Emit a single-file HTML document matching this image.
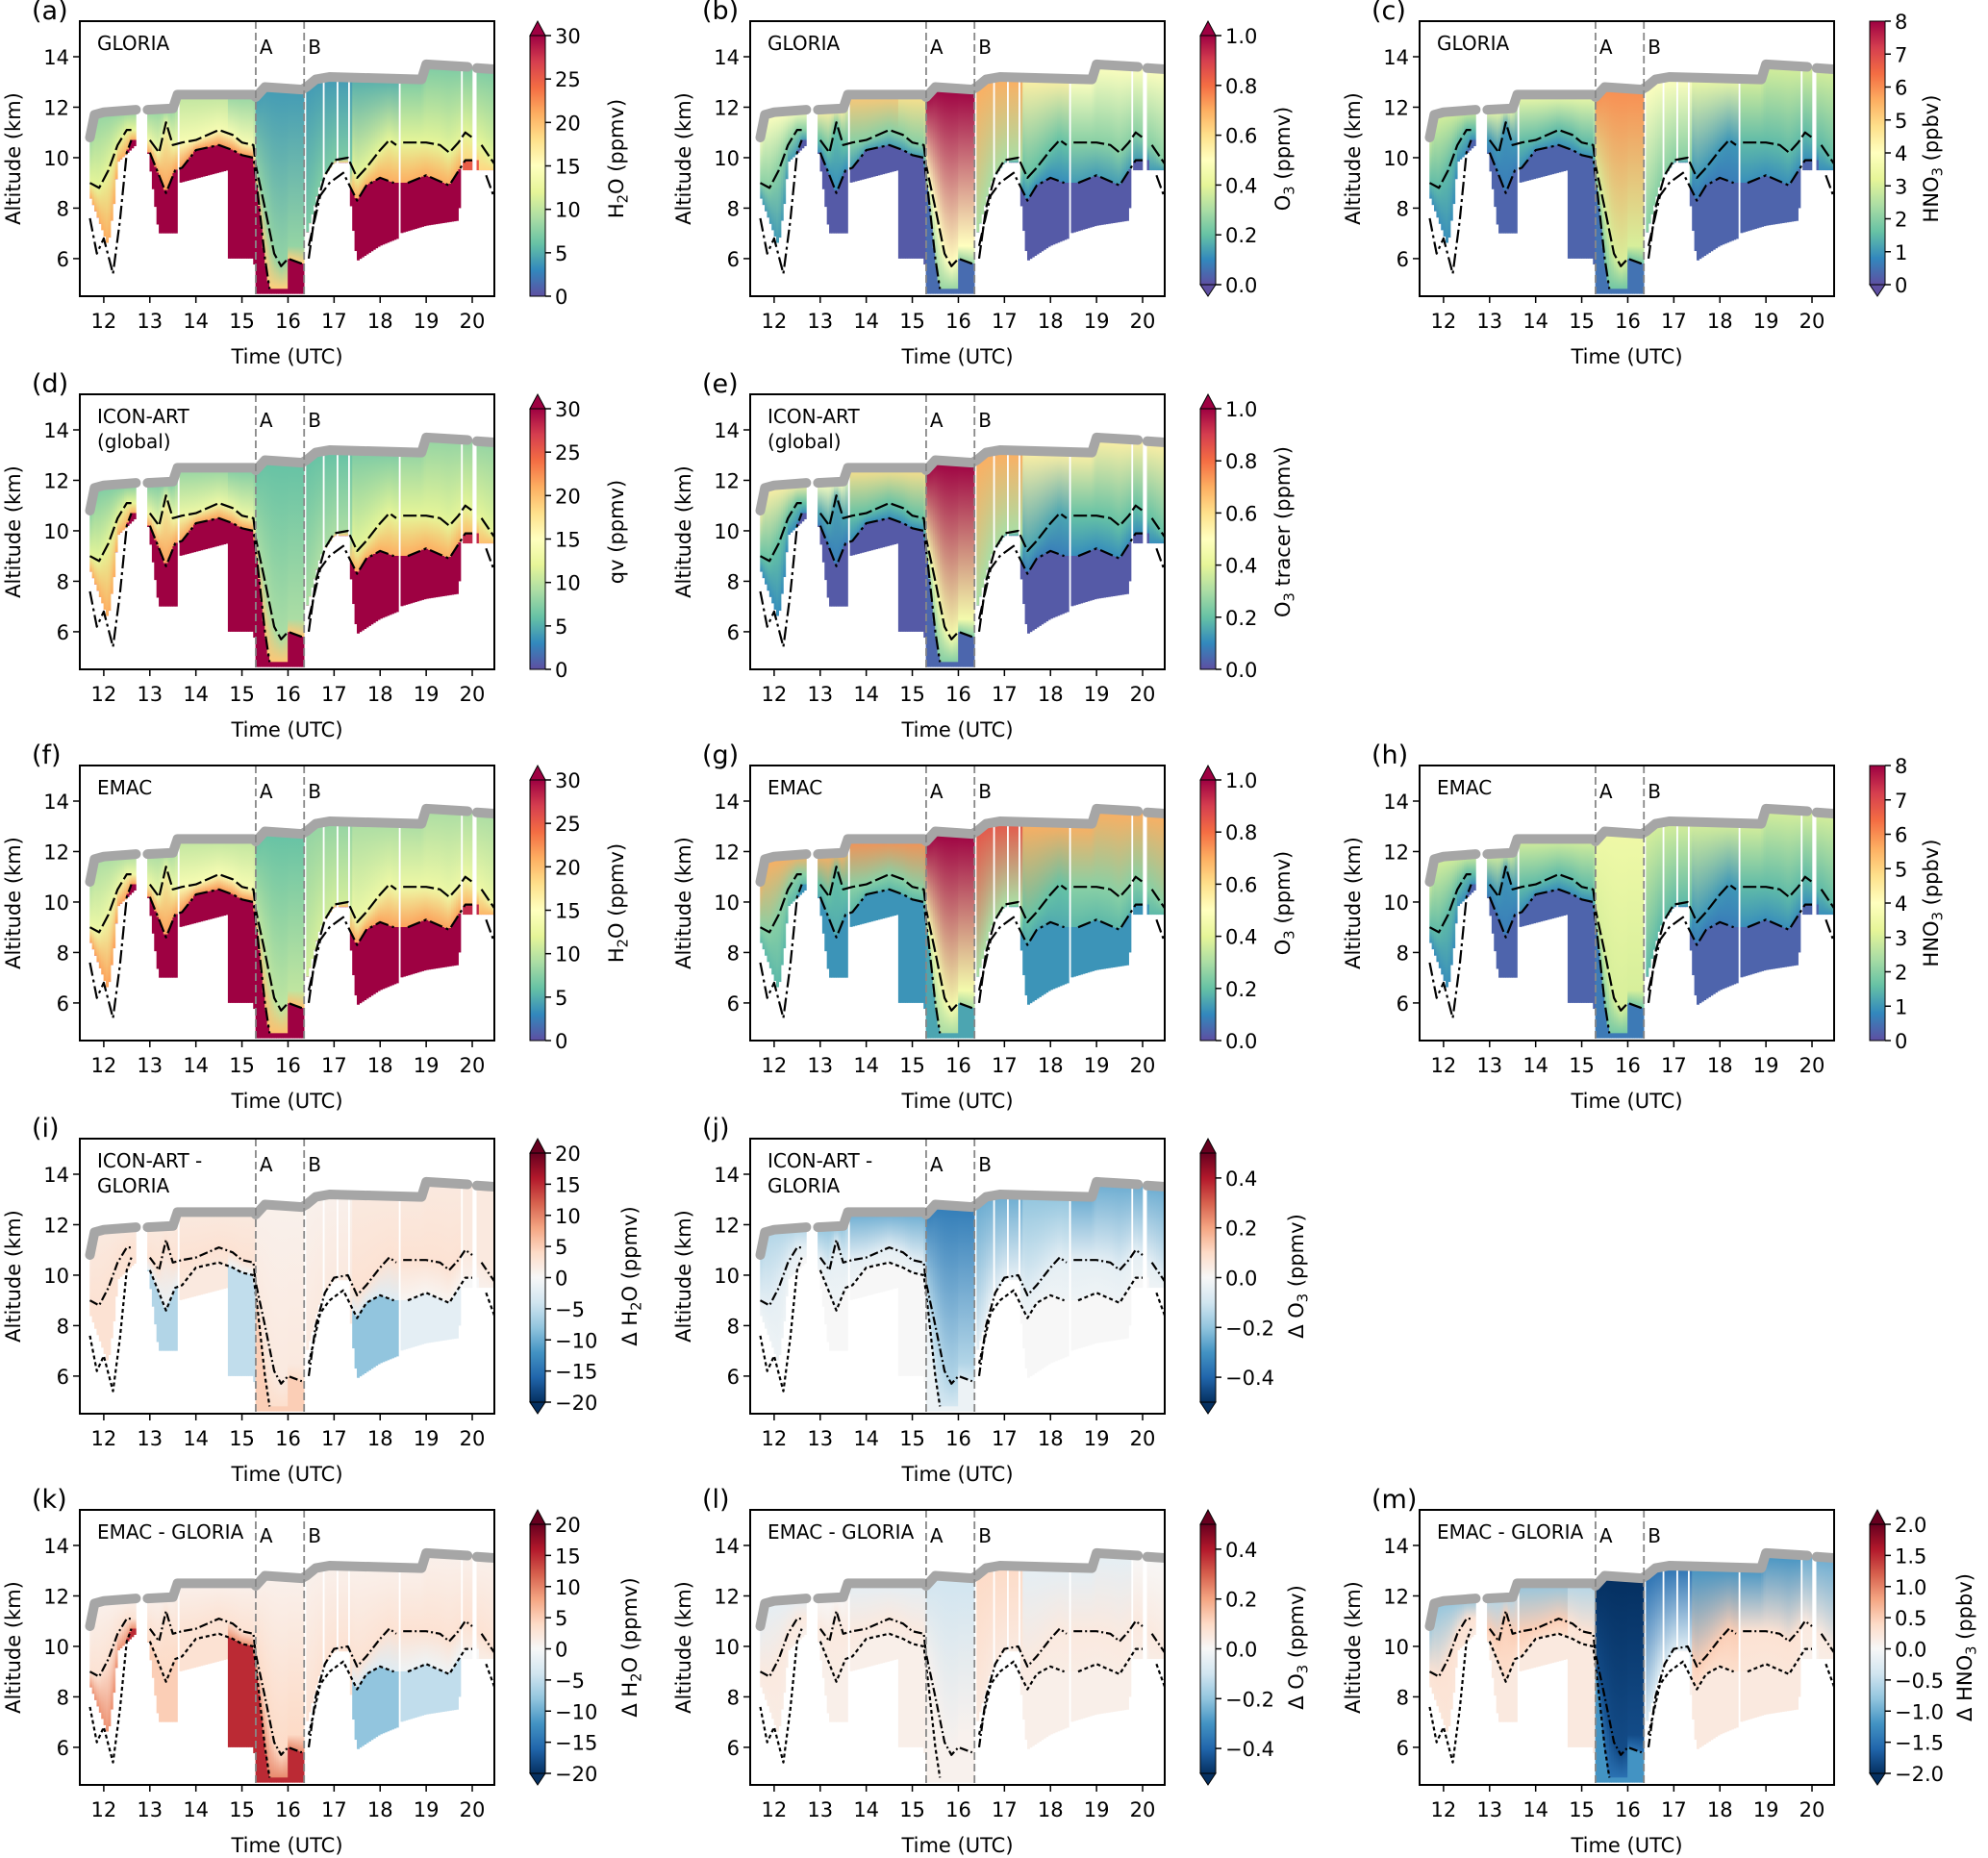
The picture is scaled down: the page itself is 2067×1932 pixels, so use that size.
<!DOCTYPE html>
<html><head><meta charset="utf-8"><style>
html,body{margin:0;padding:0;background:#fff;}
svg{display:block;font-family:"DejaVu Sans","Liberation Sans",sans-serif;}
</style></head><body>
<svg id="fig" width="2067" height="1932" viewBox="0 0 2067 1932" xmlns="http://www.w3.org/2000/svg"></svg>
<script>
// ---------- shared flight geometry (time in UTC hours, altitude in km) ----------
const flightT = [11.7,11.8,12.0,12.7,null,12.95,13.5,13.6,15.25,15.3,15.5,16.3,16.4,16.6,16.9,18.9,19.0,19.9,null,20.1,20.5];
const flightZ = [10.8,11.7,11.8,11.9,null,11.9,11.95,12.5,12.5,12.4,12.8,12.7,12.8,13.1,13.2,13.1,13.7,13.6,null,13.55,13.5];
const upperT = [11.7,11.9,12.1,12.3,12.5,12.6,null,13.0,13.2,13.35,13.5,13.7,14.0,14.5,14.8,15.0,15.25,15.3,15.5,15.7,15.85,16.0,16.3,null,16.45,16.6,16.8,17.0,17.3,17.5,17.7,18.0,18.2,18.35,null,18.5,19.0,19.3,19.5,19.7,19.85,20.0,null,20.2,20.5];
const upperZ = [9.0,8.8,9.5,10.5,11.1,11.1,null,10.7,10.2,11.4,10.5,10.6,10.7,11.1,10.9,10.6,10.5,9.7,8.0,6.2,5.7,6.0,5.8,null,6.0,8.0,9.3,9.9,10.0,9.2,9.6,10.3,10.7,10.5,null,10.6,10.6,10.5,10.2,10.6,11.0,10.8,null,10.5,9.7];
const lowerT = [11.7,11.85,12.0,12.2,12.35,12.5,12.6,null,13.0,13.2,13.35,13.55,13.7,14.0,14.5,14.8,15.0,15.25,15.35,15.5,15.6,null,16.45,16.7,16.9,17.2,17.5,17.7,18.0,18.3,null,18.6,19.0,19.5,19.85,20.0,null,20.3,20.5];
const lowerZ = [7.6,6.2,6.8,5.4,7.5,10.2,10.7,null,10.2,9.3,8.6,9.5,9.6,10.3,10.5,10.3,10.1,10.0,8.5,6.0,4.8,null,6.5,8.5,9.0,9.4,8.3,8.9,9.2,9.0,null,9.0,9.3,8.9,9.9,9.9,null,9.3,8.3];
const bottomT = [11.7,11.9,12.1,12.25,12.3,12.7,12.95,13.2,13.6,13.65,14.7,14.72,15.27,15.3,16.33,16.42,16.7,17.0,17.3,17.4,17.5,18.0,18.4,18.45,19.0,19.7,19.8,20.5];
const bottomZ = [8.5,7.5,6.5,8.5,9.8,10.5,10.5,7.0,7.0,9.0,9.5,6.0,6.0,4.6,4.6,7.0,9.0,9.8,9.8,7.5,5.9,6.5,6.8,7.0,7.3,7.5,9.5,9.5];
const gapStart = [12.72,16.34,20.02,13.6,14.7,16.75,17.05,17.3,18.4,19.75];
const gapEnd   = [12.93,16.42,20.12,13.64,14.72,16.78,17.09,17.36,18.44,19.78];
const segEdges = [11.7,12.8,13.6,14.7,15.3,16.38,17.4,18.45,19.75,20.6];
const xTicks = [12,13,14,15,16,17,18,19,20];
const yTicks = [6,8,10,12,14];
const markA = 15.3, markB = 16.35;

// ---------- per panel values per segment: at flight level, at upper line, below lower line ----------
const aTop=[8,8,10,8,4,4,5,7,7], aMid=[12,13,14,14,8,7,12,12,12], aLow=[30,30,30,30,30,30,30,30,25];
const bTop=[0.5,0.55,0.65,0.6,1.0,0.7,0.55,0.5,0.5], bMid=[0.25,0.2,0.25,0.25,0.5,0.3,0.2,0.25,0.25], bLow=[0.02,0.02,0.02,0.02,0.05,0.02,0.02,0.02,0.02];
const cTop=[3,3.5,3.5,3.5,6,4,3.5,3,3], cMid=[1.5,1,1.5,1.5,3,2,1,1.5,1.5], cLow=[0.3,0.3,0.3,0.3,0.5,0.3,0.3,0.3,0.3];
const dTop=[7,7,8,7,6,6,7,8,8], dMid=[12,13,13,13,9,9,12,12,12], dLow=[30,30,30,30,30,30,30,30,28];
const eTop=[0.55,0.5,0.6,0.6,1.0,0.7,0.55,0.55,0.55], eMid=[0.2,0.15,0.2,0.2,0.45,0.3,0.15,0.2,0.2], eLow=[0.02,0.02,0.02,0.02,0.04,0.02,0.02,0.02,0.02];
const fTop=[9,9,10,10,6,8,9,9,9], fMid=[13,13,14,14,10,11,13,13,13], fLow=[30,30,30,30,30,30,30,30,28];
const gTop=[0.7,0.7,0.75,0.75,1.0,0.85,0.7,0.7,0.7], gMid=[0.25,0.2,0.25,0.25,0.45,0.3,0.2,0.25,0.25], gLow=[0.12,0.12,0.12,0.12,0.15,0.12,0.12,0.12,0.12];
const hTop=[3,3,3,3,3.5,3,3,3,3], hMid=[1.5,1,1.5,1.5,3,1.5,1,1.5,1.5], hLow=[0.3,0.3,0.3,0.3,0.6,0.3,0.3,0.3,0.3];
const iTop=[2,2,2,2,1,1,2,2,2], iMid=[3,3,3,3,2,2,3,3,2], iLow=[3,-6,2,-5,5,2,-8,-2,0];
const jTop=[-0.15,-0.2,-0.25,-0.25,-0.35,-0.25,-0.2,-0.25,-0.25], jMid=[-0.05,-0.05,-0.05,-0.05,-0.15,-0.05,-0.05,-0.05,-0.05], jLow=[0,0,0,0,-0.03,0,0,0,0];
const kTop=[1,1,1,1,1,1,1,1,1], kMid=[3,3,3,3,4,3,3,3,3], kLow=[15,5,3,15,15,3,-8,-5,0];
const lTop=[-0.05,0,-0.05,-0.05,-0.1,0.1,-0.05,-0.05,0], lMid=[0.05,0.05,0.05,0.05,0.02,0.05,0.05,0.05,0.05], lLow=[0.03,0.03,0.03,0.03,0.02,0.03,0.03,0.03,0.03];
const mTop=[-0.8,-0.6,-0.8,-0.6,-2,-1.5,-1.2,-1.2,-1], mMid=[0.3,0.5,0.5,0.3,-1.8,-0.3,0.5,0.3,0.2], mLow=[0.2,0.2,0.2,0.2,-1.2,0.1,0.2,0.2,0.1];

const h2oTicks=[0,5,10,15,20,25,30], o3Ticks=[0,0.2,0.4,0.6,0.8,1.0], hno3Ticks=[0,1,2,3,4,5,6,7,8];
const dh2oTicks=[-20,-15,-10,-5,0,5,10,15,20], do3Ticks=[-0.4,-0.2,0,0.2,0.4], dhno3Ticks=[-2,-1.5,-1,-0.5,0,0.5,1,1.5,2];

const SPECTRAL_R=['#5e4fa2','#3288bd','#66c2a5','#abdda4','#e6f598','#ffffbf','#fee08b','#fdae61','#f46d43','#d53e4f','#9e0142'];
const RDBU_R=['#053061','#2166ac','#4393c3','#92c5de','#d1e5f0','#f7f7f7','#fddbc7','#f4a582','#d6604d','#b2182b','#67001f'];

const panels=[
 {id:'a',col:0,row:0,cm:SPECTRAL_R,vmin:0,vmax:30,ticks:h2oTicks,dec:0,ext:'max',lab:[['H'],['2',1],['O (ppmv)']],lx:134,name:['GLORIA'],diff:false,top:aTop,mid:aMid,low:aLow},
 {id:'b',col:1,row:0,cm:SPECTRAL_R,vmin:0,vmax:1,ticks:o3Ticks,dec:1,ext:'both',lab:[['O'],['3',1],[' (ppmv)']],lx:130,name:['GLORIA'],diff:false,top:bTop,mid:bMid,low:bLow},
 {id:'c',col:2,row:0,cm:SPECTRAL_R,vmin:0,vmax:8,ticks:hno3Ticks,dec:0,ext:'min',lab:[['HNO'],['3',1],[' (ppbv)']],lx:108,name:['GLORIA'],diff:false,top:cTop,mid:cMid,low:cLow},
 {id:'d',col:0,row:1,cm:SPECTRAL_R,vmin:0,vmax:30,ticks:h2oTicks,dec:0,ext:'max',lab:[['qv (ppmv)']],lx:134,name:['ICON-ART','(global)'],diff:false,top:dTop,mid:dMid,low:dLow},
 {id:'e',col:1,row:1,cm:SPECTRAL_R,vmin:0,vmax:1,ticks:o3Ticks,dec:1,ext:'max',lab:[['O'],['3',1],[' tracer (ppmv)']],lx:130,name:['ICON-ART','(global)'],diff:false,top:eTop,mid:eMid,low:eLow},
 {id:'f',col:0,row:2,cm:SPECTRAL_R,vmin:0,vmax:30,ticks:h2oTicks,dec:0,ext:'max',lab:[['H'],['2',1],['O (ppmv)']],lx:134,name:['EMAC'],diff:false,top:fTop,mid:fMid,low:fLow},
 {id:'g',col:1,row:2,cm:SPECTRAL_R,vmin:0,vmax:1,ticks:o3Ticks,dec:1,ext:'max',lab:[['O'],['3',1],[' (ppmv)']],lx:130,name:['EMAC'],diff:false,top:gTop,mid:gMid,low:gLow},
 {id:'h',col:2,row:2,cm:SPECTRAL_R,vmin:0,vmax:8,ticks:hno3Ticks,dec:0,ext:'none',lab:[['HNO'],['3',1],[' (ppbv)']],lx:108,name:['EMAC'],diff:false,top:hTop,mid:hMid,low:hLow},
 {id:'i',col:0,row:3,cm:RDBU_R,vmin:-20,vmax:20,ticks:dh2oTicks,dec:0,ext:'both',lab:[['Δ H'],['2',1],['O (ppmv)']],lx:148,name:['ICON-ART -','GLORIA'],diff:true,top:iTop,mid:iMid,low:iLow},
 {id:'j',col:1,row:3,cm:RDBU_R,vmin:-0.5,vmax:0.5,ticks:do3Ticks,dec:1,ext:'both',lab:[['Δ O'],['3',1],[' (ppmv)']],lx:144,name:['ICON-ART -','GLORIA'],diff:true,top:jTop,mid:jMid,low:jLow},
 {id:'k',col:0,row:4,cm:RDBU_R,vmin:-20,vmax:20,ticks:dh2oTicks,dec:0,ext:'both',lab:[['Δ H'],['2',1],['O (ppmv)']],lx:148,name:['EMAC - GLORIA'],diff:true,top:kTop,mid:kMid,low:kLow},
 {id:'l',col:1,row:4,cm:RDBU_R,vmin:-0.5,vmax:0.5,ticks:do3Ticks,dec:1,ext:'both',lab:[['Δ O'],['3',1],[' (ppmv)']],lx:144,name:['EMAC - GLORIA'],diff:true,top:lTop,mid:lMid,low:lLow},
 {id:'m',col:2,row:4,cm:RDBU_R,vmin:-2,vmax:2,ticks:dhno3Ticks,dec:1,ext:'both',lab:[['Δ HNO'],['3',1],[' (ppbv)']],lx:143,name:['EMAC - GLORIA'],diff:true,top:mTop,mid:mMid,low:mLow}
];

const COLS=[83,780,1476], ROWS=[22,410,796,1184,1570], W=431, H=286;
const T0=11.48, T1=20.48, Z0=4.51, Z1=15.41;
const FS=21;
const NS='http://www.w3.org/2000/svg';
const svg=document.getElementById('fig');
const defs=document.createElementNS(NS,'defs');
svg.appendChild(defs);

function el(tag,attrs,parent){const e=document.createElementNS(NS,tag);for(const k in attrs)e.setAttribute(k,attrs[k]);(parent||svg).appendChild(e);return e;}
function hex2rgb(h){return [parseInt(h.slice(1,3),16),parseInt(h.slice(3,5),16),parseInt(h.slice(5,7),16)];}
function cmap(stops,f){f=Math.max(0,Math.min(1,f));const p=f*(stops.length-1);const i=Math.min(stops.length-2,Math.floor(p));const r=p-i;const a=hex2rgb(stops[i]),b=hex2rgb(stops[i+1]);return 'rgb('+a.map((v,k)=>Math.round(v+(b[k]-v)*r)).join(',')+')';}
function interp(T,Z,t){let best=null;for(let i=0;i<T.length-1;i++){if(T[i]===null||T[i+1]===null)continue;if(t>=T[i]&&t<=T[i+1]){return Z[i]+(Z[i+1]-Z[i])*(t-T[i])/(T[i+1]-T[i]);}}
 let d=1e9;for(let i=0;i<T.length;i++){if(T[i]===null)continue;const dd=Math.abs(T[i]-t);if(dd<d){d=dd;best=Z[i];}}return best;}
function inGap(t){for(let i=0;i<gapStart.length;i++)if(t>gapStart[i]&&t<gapEnd[i])return true;return false;}
function segOf(t){for(let i=0;i<segEdges.length-1;i++)if(t<segEdges[i+1])return i;return segEdges.length-2;}
function addText(parent,x,y,parts,size,anchor,rot){
 const t=el('text',{x:x,y:y,'font-size':size,'text-anchor':anchor||'start',fill:'#000'},parent);
 if(rot)t.setAttribute('transform','rotate(-90 '+x+' '+y+')');
 parts.forEach(p=>{const s=el('tspan',{},t);s.textContent=p[0];if(p[1]){s.setAttribute('font-size',size*0.7);s.setAttribute('dy',size*0.22);}else if(t.childNodes.length>1){const prev=t.childNodes[t.childNodes.length-2];if(prev.getAttribute('dy'))s.setAttribute('dy',-size*0.22);}});
 return t;}

panels.forEach(P=>{
 const L=COLS[P.col], T=ROWS[P.row];
 const X=t=>L+(t-T0)/(T1-T0)*W;
 const Y=z=>T+(Z1-z)/(Z1-Z0)*H;
 const g=el('g',{});
 
 
 const clipId='clip'+P.id;
 const cp=el('clipPath',{id:clipId},defs);el('rect',{x:L,y:T,width:W,height:H},cp);
 const plot=el('g',{'clip-path':'url(#'+clipId+')'},g);
 
 
 const norm=v=>(v-P.vmin)/(P.vmax-P.vmin);
 for(let t=11.7;t<20.5;t+=0.05){
  const tc=t+0.025; if(inGap(tc))continue;
  const s=segOf(tc);
  const zf=interp(flightT,flightZ,tc), zb=interp(bottomT,bottomZ,tc);
  let zu=interp(upperT,upperZ,tc), zl=interp(lowerT,lowerZ,tc);
  if(zl>zu){const q=zl;zl=zu;zu=q;}
  if(zf<=zb)continue;
  const gid='gr'+P.id+Math.round(t*100);
  const lg=el('linearGradient',{id:gid,gradientUnits:'userSpaceOnUse',x1:0,x2:0,y1:Y(zb),y2:Y(zf)},defs);
  const pos=z=>Math.max(0,Math.min(1,(z-zb)/(zf-zb)));
  const st=[[0,P.low[s]],[pos(zl),P.low[s]],[pos(zl)+0.001,(P.low[s]+P.mid[s])/2],[pos(zu),P.mid[s]],[1,P.top[s]]];
  st.forEach(a=>el('stop',{offset:Math.min(1,a[0]),'stop-color':cmap(P.cm,norm(a[1]))},lg));
  const r=el('rect',{x:X(t)-0.3,y:Y(zf),width:X(t+0.05)-X(t)+0.6,height:Y(zb)-Y(zf),fill:'url(#'+gid+')'},plot);
  
  
 }
 function poly(TT,ZZ,dash,name,color,width){
  let pts=[];const segs=[];
  for(let i=0;i<=TT.length;i++){if(i===TT.length||TT[i]===null){if(pts.length>1)segs.push(pts);pts=[];}else pts.push(X(TT[i]).toFixed(1)+','+Y(ZZ[i]).toFixed(1));}
  segs.forEach(p=>{const pl=el('polyline',{points:p.join(' '),fill:'none',stroke:color,'stroke-width':width,'stroke-dasharray':dash,'stroke-linecap':dash?'butt':'round','stroke-linejoin':'round'},plot);
   
   });
 }
 poly(upperT,upperZ,P.diff?'9,3,2,3':'14,4','upper-tropopause-line','#000',2.2);
 poly(lowerT,lowerZ,P.diff?'4,3':'14,4,3,4','lower-tropopause-line','#000',2.2);
 poly(flightT,flightZ,null,'flight-altitude-line','#a6a6a6',10);
 [[markA,'A'],[markB,'B']].forEach(m=>{
  const ln=el('line',{x1:X(m[0]),x2:X(m[0]),y1:T,y2:T+H,stroke:'#888','stroke-width':1.8,'stroke-dasharray':'8,4'},g);
  
  
  const tx=addText(g,X(m[0])+4,T+34,[[m[1]]],20);
  
  
 });
 const fr=el('rect',{x:L,y:T,width:W,height:H,fill:'none',stroke:'#000','stroke-width':2},g);
 
 
 xTicks.forEach(v=>{el('line',{x1:X(v),x2:X(v),y1:T+H,y2:T+H+7,stroke:'#000','stroke-width':1.5},g);
  const tx=addText(g,X(v),T+H+33,[[String(v)]],FS,'middle');
  
  });
 yTicks.forEach(v=>{el('line',{x1:L-7,x2:L,y1:Y(v),y2:Y(v),stroke:'#000','stroke-width':1.5},g);
  const tx=addText(g,L-11,Y(v)+8,[[String(v)]],FS,'end');
  
  });
 const xt=addText(g,L+W/2,T+H+70,[['Time (UTC)']],FS,'middle');
 
 
 const yt=addText(g,L-62,T+H/2,[['Altitude (km)']],FS,'middle',true);
 
 
 const pl=addText(g,L-50,T-2,[['('+P.id+')']],27);
 
 
 P.name.forEach((n,i)=>{const tx=addText(g,L+18,T+30+i*26,[[n]],20);
  
  });
 const cx=L+W+37, cw=16;
 const ct=T+((P.ext==='max'||P.ext==='both')?15:0), cb=T+H-((P.ext==='min'||P.ext==='both')?12:0);
 const cbg=el('g',{},g);
 
 
 const cgid='cb'+P.id;
 const clg=el('linearGradient',{id:cgid,x1:0,x2:0,y1:1,y2:0},defs);
 P.cm.forEach((c,i)=>el('stop',{offset:i/(P.cm.length-1),'stop-color':c},clg));
 el('rect',{x:cx,y:ct,width:cw,height:cb-ct,fill:'url(#'+cgid+')'},cbg);
 if(P.ext==='max'||P.ext==='both')el('polygon',{points:cx+','+ct+' '+(cx+cw)+','+ct+' '+(cx+cw/2)+','+T,fill:P.cm[P.cm.length-1],stroke:'#000','stroke-width':1},cbg);
 if(P.ext==='min'||P.ext==='both')el('polygon',{points:cx+','+cb+' '+(cx+cw)+','+cb+' '+(cx+cw/2)+','+(T+H),fill:P.cm[0],stroke:'#000','stroke-width':1},cbg);
 el('rect',{x:cx,y:ct,width:cw,height:cb-ct,fill:'none',stroke:'#000','stroke-width':1},cbg);
 P.ticks.forEach(v=>{const yy=cb-(v-P.vmin)/(P.vmax-P.vmin)*(cb-ct);
  el('line',{x1:cx+cw,x2:cx+cw+6,y1:yy,y2:yy,stroke:'#000','stroke-width':1.5},cbg);
  const s=(v<0?'\u2212':'')+Math.abs(v).toFixed(P.dec);
  const tx=addText(cbg,cx+cw+10,yy+8,[[s]],FS);
  
  });
 const lab=addText(cbg,L+W+P.lx,T+H/2,P.lab,FS,'middle',true);
 
 
});
</script>
</body></html>
